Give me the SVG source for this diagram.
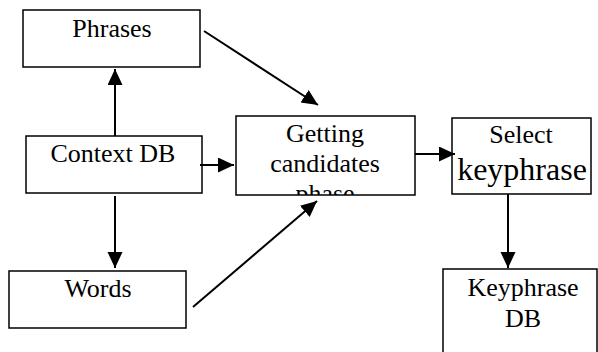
<svg xmlns="http://www.w3.org/2000/svg" width="598" height="352" viewBox="0 0 598 352">
<defs>
<style>
.box{fill:#fff;stroke:#000;stroke-width:1.5}
.t{font-family:"Liberation Serif","Times New Roman",serif;font-size:26px;fill:#000;text-anchor:middle}
.c{stroke:#000;stroke-width:2;fill:none;marker-end:url(#ah)}
</style>
<marker id="ah" markerUnits="userSpaceOnUse" markerWidth="16" markerHeight="16" refX="16" refY="7.5" orient="auto">
<path d="M0,0 L16,7.5 L0,15 Z" fill="#000"/>
</marker>
<clipPath id="gclip"><rect x="236" y="116" width="179" height="79"/></clipPath>
</defs>
<g id="phrases"><rect class="box" x="23" y="10" width="177" height="57"/><text class="t" x="112" y="37">Phrases</text></g>
<g id="context"><rect class="box" x="26" y="136" width="176" height="57"/><text class="t" x="113" y="162">Context DB</text></g>
<g id="words"><rect class="box" x="9" y="271" width="177" height="57"/><text class="t" x="98" y="297">Words</text></g>
<g id="getting"><rect class="box" x="236" y="116" width="179" height="79"/><g clip-path="url(#gclip)"><text class="t" x="325" y="142">Getting</text><text class="t" x="325" y="172">candidates</text><text class="t" x="325" y="202">phase</text></g></g>
<g id="select"><rect class="box" x="452" y="118" width="139" height="76"/><text class="t" x="521" y="143">Select</text><text class="t" x="522" y="180" style="font-size:32px">keyphrase</text></g>
<g id="keydb"><rect class="box" x="443" y="269" width="154" height="100"/><text class="t" x="523" y="296">Keyphrase</text><text class="t" x="523" y="327">DB</text></g>
<g id="connectors">
<line class="c" x1="115" y1="136" x2="115" y2="69"/>
<line class="c" x1="115" y1="196" x2="115" y2="268"/>
<line class="c" x1="200" y1="165" x2="234" y2="165"/>
<line class="c" x1="415" y1="154" x2="455" y2="154"/>
<line class="c" x1="508" y1="194" x2="508" y2="268"/>
<line class="c" x1="204" y1="31" x2="318" y2="105"/>
<line class="c" x1="193" y1="307" x2="317" y2="201"/>
</g>
</svg>
